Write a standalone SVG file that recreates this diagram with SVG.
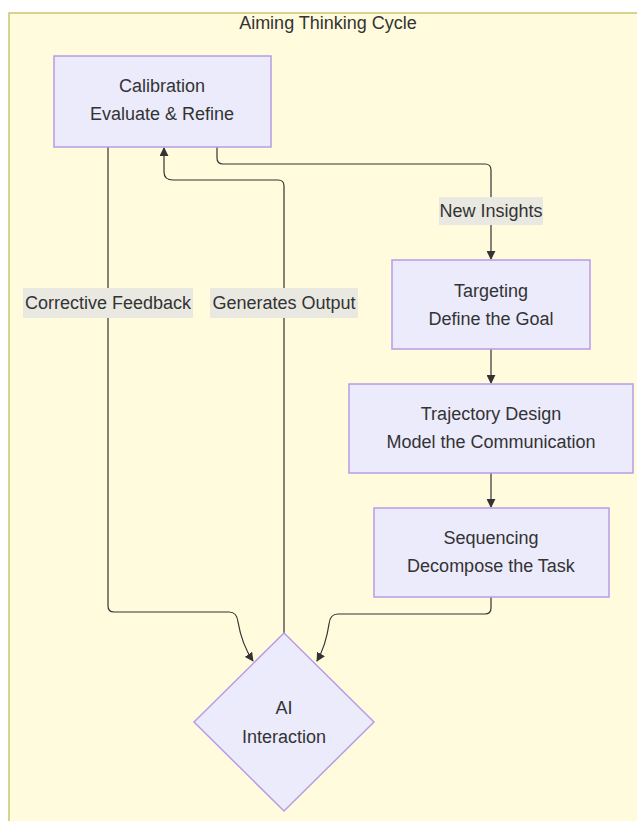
<svg xmlns="http://www.w3.org/2000/svg" width="637" height="821" viewBox="0 0 637 821">
  <style>
    .cluster { fill: #fffbdc; stroke: #c8c870; stroke-width: 1.5; }
    .node { fill: #ebebfc; stroke: #b79ce8; stroke-width: 1.5; }
    .t { font-family: "Liberation Sans", "DejaVu Sans", sans-serif; font-size: 18px; fill: #333; text-anchor: middle; }
    .edge { fill: none; stroke: #333; stroke-width: 1.2; }
    .lbl { fill: #e9e9e2; }
  </style>
  <defs>
    <marker id="arrow" viewBox="0 0 10 10" refX="9" refY="5" markerWidth="9" markerHeight="9" orient="auto-start-reverse" markerUnits="userSpaceOnUse">
      <path d="M0,0 L10,5 L0,10 z" fill="#333"/>
    </marker>
  </defs>

  <rect width="637" height="821" fill="#ffffff"/>

  <!-- subgraph frame -->
  <g id="cycle">
    <rect class="cluster" x="9" y="13" width="640" height="820"/>
    <text class="t" x="328" y="29">Aiming Thinking Cycle</text>
  </g>

  <!-- connectors -->
  <g id="edges">
    <path class="edge" d="M217,147 L217,158 Q217,164 223,164 L485,164 Q491,164 491,170 L491,259" marker-end="url(#arrow)"/>
    <path class="edge" d="M491,349 L491,383" marker-end="url(#arrow)"/>
    <path class="edge" d="M491,473 L491,507" marker-end="url(#arrow)"/>
    <path class="edge" d="M491,597 L491,608 Q491,614 485,614 L338,614 Q330,614 329,624 Q326,645 317,661" marker-end="url(#arrow)"/>
    <path class="edge" d="M108,147 L108,606 Q108,612 114,612 L229,612 Q237,612 238,622 Q242,645 253,661" marker-end="url(#arrow)"/>
    <path class="edge" d="M284,633 L284,186 Q284,180 278,180 L173,180 Q164,180 164,172 L164,148" marker-end="url(#arrow)"/>

    <rect class="lbl" x="439" y="197" width="104" height="28"/>
    <text class="t" x="491" y="217">New Insights</text>
    <rect class="lbl" x="23" y="288" width="170" height="30"/>
    <text class="t" x="108" y="309">Corrective Feedback</text>
    <rect class="lbl" x="210" y="288" width="148" height="30"/>
    <text class="t" x="284" y="309">Generates Output</text>
  </g>

  <g id="calibration">
    <rect class="node" x="54" y="56" width="217" height="91"/>
    <text class="t" x="162" y="92">Calibration</text>
    <text class="t" x="162" y="120">Evaluate &amp; Refine</text>
  </g>

  <g id="targeting">
    <rect class="node" x="392" y="260" width="198" height="89"/>
    <text class="t" x="491" y="297">Targeting</text>
    <text class="t" x="491" y="325">Define the Goal</text>
  </g>

  <g id="trajectory">
    <rect class="node" x="349" y="384" width="284" height="89"/>
    <text class="t" x="491" y="420">Trajectory Design</text>
    <text class="t" x="491" y="448">Model the Communication</text>
  </g>

  <g id="sequencing">
    <rect class="node" x="374" y="508" width="235" height="89"/>
    <text class="t" x="491" y="544">Sequencing</text>
    <text class="t" x="491" y="572">Decompose the Task</text>
  </g>

  <g id="ai">
    <polygon class="node" points="284,633 374,722 284,811 194,722"/>
    <text class="t" x="284" y="714">AI</text>
    <text class="t" x="284" y="743">Interaction</text>
  </g>
</svg>
